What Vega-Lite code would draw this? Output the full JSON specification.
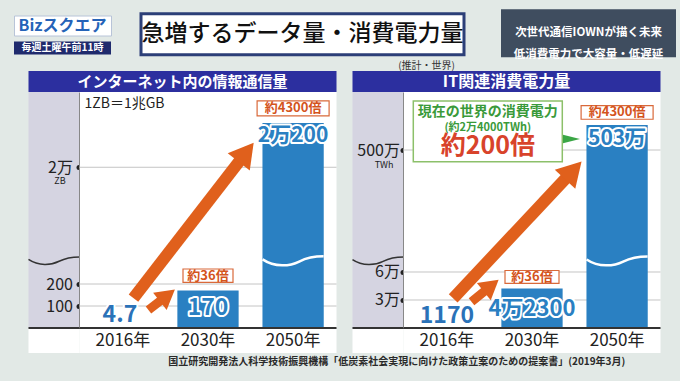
{
"$schema": "https://vega.github.io/schema/vega-lite/v6.json",
"background": "#e2e9e6",
"padding": {"left": 13, "top": 9, "right": 10, "bottom": 14},
"config": {"font": "Noto Sans CJK JP", "view": {"stroke": null}},
"title": {"text": "国立研究開発法人科学技術振興機構「低炭素社会実現に向けた政策立案のための提案書」(2019年3月)", "orient": "bottom", "anchor": "middle", "dx": 52, "offset": 4, "fontSize": 10, "fontWeight": "bold", "color": "#2a2a2a"},
"spacing": 0,
"center": true,
"vconcat": [
{"hconcat": [
  {"vconcat": [
    {"width": 97, "height": 20, "view": {"fill": "white", "stroke": "#b8c4d8"}, "data": {"values": [{}]}, "mark": {"type": "text", "text": "Bizスクエア", "fontSize": 16, "fontWeight": "bold", "color": "#2563b8"}},
    {"width": 97, "height": 13, "view": {"fill": "#1f2a6d"}, "data": {"values": [{}]}, "mark": {"type": "text", "text": "毎週土曜午前11時", "fontSize": 10, "fontWeight": "bold", "color": "white"}}
  ], "spacing": 5},
  {"width": 27, "height": 1, "data": {"values": [{}]}, "mark": {"type": "text", "text": ""}},
  {"width": 323, "height": 41, "view": {"fill": "white", "stroke": "#2c3f78", "strokeWidth": 3}, "data": {"values": [{}]}, "mark": {"type": "text", "text": "急増するデータ量・消費電力量", "fontSize": 23, "fontWeight": 500, "color": "#111111"}},
  {"width": 35, "height": 1, "data": {"values": [{}]}, "mark": {"type": "text", "text": ""}},
  {"width": 175, "height": 48, "view": {"fill": "#3f4d5f"}, "data": {"values": [{}]}, "mark": {"type": "text", "text": ["次世代通信IOWNが描く未来", "低消費電力で大容量・低遅延"], "fontSize": 11.5, "fontWeight": "bold", "color": "white", "lineHeight": 22}}
 ], "spacing": 0, "center": true},
{"title": {"text": "(推計・世界)", "anchor": "middle", "dx": 83, "fontSize": 10, "fontWeight": "normal", "color": "#333333", "offset": 0},
 "hconcat": [
  {"vconcat": [
    {"width": 308, "height": 21, "view": {"fill": "#2c2f9f"}, "data": {"values": [{}]}, "mark": {"type": "text", "text": "インターネット内の情報通信量", "fontSize": 15, "fontWeight": "bold", "color": "white"}},
    {"hconcat": [
      {"width": 51, "height": 236, "view": {"fill": "#d5d4e1"}, "layer": [
        {"data": {"values": [{"v": 20000, "u": "ZB"}]}, "mark": {"type": "text", "fontSize": 9, "dx": 6, "dy": 14, "color": "#222222"},
         "encoding": {"y": {"field": "v", "type": "quantitative", "scale": {"domain": [0, 300, 19590, 20340], "range": [236, 170, 166, 0], "nice": false, "zero": false},
           "axis": {"orient": "left", "offset": -51, "values": [100, 200, 20000], "labelExpr": "datum.value == 20000 ? '2万' : datum.label", "labelFontSize": 16, "labelColor": "#222222", "labelPadding": 6, "tickSize": 1, "tickWidth": 5, "tickCap": "round", "tickColor": "#222222", "domainColor": "#111111", "domainWidth": 2, "grid": false, "title": null, "labelFlush": false, "labelOverlap": false}},
          "text": {"field": "u", "type": "nominal"}}},
        {"data": {"values": [{"v": 10000}]}, "mark": {"type": "point", "shape": "M-1,-0.02C-0.6,0.25,-0.1,0.2,0.2,0.05C0.5,-0.1,0.7,-0.12,1,-0.12", "size": 2601, "filled": false, "stroke": "#333333", "strokeWidth": 1.5, "opacity": 1},
         "encoding": {"y": {"field": "v", "type": "quantitative", "scale": {"domain": [0, 300, 19590, 20340], "range": [236, 170, 166, 0], "nice": false, "zero": false},
           "axis": {"orient": "left", "offset": -51, "values": [100, 200, 20000], "labelExpr": "datum.value == 20000 ? '2万' : datum.label", "labelFontSize": 16, "labelColor": "#222222", "labelPadding": 6, "tickSize": 1, "tickWidth": 5, "tickCap": "round", "tickColor": "#222222", "domainColor": "#111111", "domainWidth": 2, "grid": false, "title": null, "labelFlush": false, "labelOverlap": false}}}},
        {"data": {"values": [{"v": 0}]}, "mark": {"type": "rule", "color": "#333333", "strokeWidth": 2},
         "encoding": {"y": {"field": "v", "type": "quantitative", "scale": {"domain": [0, 300, 19590, 20340], "range": [236, 170, 166, 0], "nice": false, "zero": false},
           "axis": {"orient": "left", "offset": -51, "values": [100, 200, 20000], "labelExpr": "datum.value == 20000 ? '2万' : datum.label", "labelFontSize": 16, "labelColor": "#222222", "labelPadding": 6, "tickSize": 1, "tickWidth": 5, "tickCap": "round", "tickColor": "#222222", "domainColor": "#111111", "domainWidth": 2, "grid": false, "title": null, "labelFlush": false, "labelOverlap": false}}}}
      ]},
      {"width": 257, "height": 236, "view": {"fill": "white"}, "resolve": {"scale": {"x": "independent"}}, "layer": [
        {"data": {"values": [{"v": 100}, {"v": 200}, {"v": 20000}]}, "mark": {"type": "rule", "color": "#c4c4c4", "strokeWidth": 1},
         "encoding": {"y": {"field": "v", "type": "quantitative", "scale": {"domain": [0, 300, 19590, 20340], "range": [236, 170, 166, 0], "nice": false, "zero": false}, "axis": null}}},
        {"data": {"values": [{"year": "2016年", "v": 4.7}, {"year": "2030年", "v": 170}, {"year": "2050年", "v": 20200}]},
         "mark": {"type": "bar", "color": "#2a80c2"},
         "encoding": {"x": {"field": "year", "type": "nominal", "scale": {"type": "band", "domain": ["2016年", "2030年", "2050年"], "paddingInner": 0.28, "paddingOuter": 0.15}, "axis": null},
          "y": {"field": "v", "type": "quantitative", "scale": {"domain": [0, 300, 19590, 20340], "range": [236, 170, 166, 0], "nice": false, "zero": false}, "axis": null}}},
        {"data": {"values": [{"year": "2050年", "v": 10000}]},
         "mark": {"type": "point", "shape": "M-1,-0.02C-0.6,0.25,-0.1,0.2,0.2,0.05C0.5,-0.1,0.7,-0.12,1,-0.12", "size": 3721, "filled": false, "stroke": "white", "strokeWidth": 2.5, "opacity": 1},
         "encoding": {"x": {"field": "year", "type": "nominal", "scale": {"type": "band", "domain": ["2016年", "2030年", "2050年"], "paddingInner": 0.28, "paddingOuter": 0.15}, "axis": null},
          "y": {"field": "v", "type": "quantitative", "scale": {"domain": [0, 300, 19590, 20340], "range": [236, 170, 166, 0], "nice": false, "zero": false}, "axis": null}}},
        {"data": {"values": [{"v": 0}]}, "mark": {"type": "rule", "color": "#333333", "strokeWidth": 2},
         "encoding": {"y": {"field": "v", "type": "quantitative", "scale": {"domain": [0, 300, 19590, 20340], "range": [236, 170, 166, 0], "nice": false, "zero": false}, "axis": null}}},
        {"data": {"values": [{"px": 0.63, "v": 136, "px2": 1.946, "v2": 20067}]},
         "layer": [
          {"mark": {"type": "rule", "color": "#e0601c", "strokeWidth": 12},
           "encoding": {"x": {"field": "px", "type": "quantitative", "scale": {"domain": [0, 3], "nice": false, "zero": false}, "axis": null}, "x2": {"field": "px2"},
            "y": {"field": "v", "type": "quantitative", "scale": {"domain": [0, 300, 19590, 20340], "range": [236, 170, 166, 0], "nice": false, "zero": false}, "axis": null}, "y2": {"field": "v2"}}},
          {"mark": {"type": "point", "shape": "triangle-up", "size": 784, "filled": true, "color": "#e0601c", "opacity": 1, "angle": 38},
           "encoding": {"x": {"field": "px2", "type": "quantitative", "scale": {"domain": [0, 3], "nice": false, "zero": false}, "axis": null},
            "y": {"field": "v2", "type": "quantitative", "scale": {"domain": [0, 300, 19590, 20340], "range": [236, 170, 166, 0], "nice": false, "zero": false}, "axis": null}}}
         ]},
        {"data": {"values": [{"px": 0.805, "v": 82, "px2": 1.026, "v2": 148}]},
         "layer": [
          {"mark": {"type": "rule", "color": "#e0601c", "strokeWidth": 9},
           "encoding": {"x": {"field": "px", "type": "quantitative", "scale": {"domain": [0, 3], "nice": false, "zero": false}, "axis": null}, "x2": {"field": "px2"},
            "y": {"field": "v", "type": "quantitative", "scale": {"domain": [0, 300, 19590, 20340], "range": [236, 170, 166, 0], "nice": false, "zero": false}, "axis": null}, "y2": {"field": "v2"}}},
          {"mark": {"type": "point", "shape": "triangle-up", "size": 484, "filled": true, "color": "#e0601c", "opacity": 1, "angle": 52},
           "encoding": {"x": {"field": "px2", "type": "quantitative", "scale": {"domain": [0, 3], "nice": false, "zero": false}, "axis": null},
            "y": {"field": "v2", "type": "quantitative", "scale": {"domain": [0, 300, 19590, 20340], "range": [236, 170, 166, 0], "nice": false, "zero": false}, "axis": null}}}
         ]},
        {"data": {"values": [{"year": "2050年", "v": 20266, "t": "約4300倍"}]},
         "encoding": {"x": {"field": "year", "type": "nominal", "scale": {"type": "band", "domain": ["2016年", "2030年", "2050年"], "paddingInner": 0.28, "paddingOuter": 0.15}, "axis": null},
          "y": {"field": "v", "type": "quantitative", "scale": {"domain": [0, 300, 19590, 20340], "range": [236, 170, 166, 0], "nice": false, "zero": false}, "axis": null}},
         "layer": [
          {"mark": {"type": "point", "shape": "M-1,-0.21H1V0.21H-1Z", "size": 5184, "filled": true, "fill": "white", "stroke": "#d9693a", "strokeWidth": 1.2, "opacity": 1}},
          {"mark": {"type": "text", "fontSize": 13, "fontWeight": "bold", "color": "#d4541c"}, "encoding": {"text": {"field": "t", "type": "nominal"}}}
         ]},
        {"data": {"values": [{"year": "2030年", "v": 238, "t": "約36倍"}]},
         "encoding": {"x": {"field": "year", "type": "nominal", "scale": {"type": "band", "domain": ["2016年", "2030年", "2050年"], "paddingInner": 0.28, "paddingOuter": 0.15}, "axis": null},
          "y": {"field": "v", "type": "quantitative", "scale": {"domain": [0, 300, 19590, 20340], "range": [236, 170, 166, 0], "nice": false, "zero": false}, "axis": null}},
         "layer": [
          {"mark": {"type": "point", "shape": "M-1,-0.266H1V0.266H-1Z", "size": 2500, "filled": true, "fill": "white", "stroke": "#d9693a", "strokeWidth": 1.2, "opacity": 1}},
          {"mark": {"type": "text", "fontSize": 13, "fontWeight": "bold", "color": "#d4541c"}, "encoding": {"text": {"field": "t", "type": "nominal"}}}
         ]},
        {"data": {"values": [{"year": "2050年", "v": 20200, "t": "2万200"}]},
         "encoding": {"x": {"field": "year", "type": "nominal", "scale": {"type": "band", "domain": ["2016年", "2030年", "2050年"], "paddingInner": 0.28, "paddingOuter": 0.15}, "axis": null},
          "y": {"field": "v", "type": "quantitative", "scale": {"domain": [0, 300, 19590, 20340], "range": [236, 170, 166, 0], "nice": false, "zero": false}, "axis": null},
          "text": {"field": "t", "type": "nominal"}},
         "layer": [
          {"mark": {"type": "text", "fontSize": 21, "fontWeight": "bold", "dy": 13, "fill": "white", "stroke": "white", "strokeWidth": 4, "strokeJoin": "round"}},
          {"mark": {"type": "text", "fontSize": 21, "fontWeight": "bold", "dy": 13, "fill": "#2a80c2"}}
         ]},
        {"data": {"values": [{"year": "2030年", "v": 170, "t": "170"}]},
         "encoding": {"x": {"field": "year", "type": "nominal", "scale": {"type": "band", "domain": ["2016年", "2030年", "2050年"], "paddingInner": 0.28, "paddingOuter": 0.15}, "axis": null},
          "y": {"field": "v", "type": "quantitative", "scale": {"domain": [0, 300, 19590, 20340], "range": [236, 170, 166, 0], "nice": false, "zero": false}, "axis": null},
          "text": {"field": "t", "type": "nominal"}},
         "layer": [
          {"mark": {"type": "text", "fontSize": 23, "fontWeight": "bold", "dy": 17, "fill": "white", "stroke": "white", "strokeWidth": 4, "strokeJoin": "round"}},
          {"mark": {"type": "text", "fontSize": 23, "fontWeight": "bold", "dy": 17, "fill": "#2a80c2"}}
         ]},
        {"data": {"values": [{"year": "2016年", "v": 4.7, "t": "4.7"}]},
         "encoding": {"x": {"field": "year", "type": "nominal", "scale": {"type": "band", "domain": ["2016年", "2030年", "2050年"], "paddingInner": 0.28, "paddingOuter": 0.15}, "axis": null},
          "y": {"field": "v", "type": "quantitative", "scale": {"domain": [0, 300, 19590, 20340], "range": [236, 170, 166, 0], "nice": false, "zero": false}, "axis": null},
          "text": {"field": "t", "type": "nominal"}},
         "layer": [
          {"mark": {"type": "text", "fontSize": 23, "fontWeight": "bold", "dy": -12, "dx": -3, "fill": "white", "stroke": "white", "strokeWidth": 4, "strokeJoin": "round"}},
          {"mark": {"type": "text", "fontSize": 23, "fontWeight": "bold", "dy": -12, "dx": -3, "fill": "#2a72b8"}}
         ]},
        {"data": {"values": [{"px": 0.058, "v": 20285, "t": "1ZB＝1兆GB"}]},
         "mark": {"type": "text", "align": "left", "fontSize": 14, "color": "#222222"},
         "encoding": {"x": {"field": "px", "type": "quantitative", "scale": {"domain": [0, 3], "nice": false, "zero": false}, "axis": null},
          "y": {"field": "v", "type": "quantitative", "scale": {"domain": [0, 300, 19590, 20340], "range": [236, 170, 166, 0], "nice": false, "zero": false}, "axis": null},
          "text": {"field": "t", "type": "nominal"}}}
      ]}
    ], "spacing": 0, "bounds": "flush"},
    {"hconcat": [
      {"width": 51, "height": 24, "view": {"fill": "white"}, "data": {"values": [{}]}, "mark": {"type": "text", "text": ""}},
      {"width": 257, "height": 24, "view": {"fill": "white"}, "data": {"values": [{"year": "2016年"}, {"year": "2030年"}, {"year": "2050年"}]},
       "mark": {"type": "text", "fontSize": 17, "color": "#222222"},
       "encoding": {"x": {"field": "year", "type": "nominal", "scale": {"type": "band", "domain": ["2016年", "2030年", "2050年"], "paddingInner": 0.28, "paddingOuter": 0.15}, "axis": null}, "text": {"field": "year", "type": "nominal"}}}
    ], "spacing": 0, "bounds": "flush"}
  ], "spacing": 0},
  {"vconcat": [
    {"width": 308, "height": 21, "view": {"fill": "#2c2f9f"}, "data": {"values": [{}]}, "mark": {"type": "text", "text": "IT関連消費電力量", "fontSize": 16, "fontWeight": "bold", "color": "white"}},
    {"hconcat": [
      {"width": 51, "height": 236, "view": {"fill": "#d5d4e1"}, "layer": [
        {"data": {"values": [{"v": 5000000, "u": "TWh"}]}, "mark": {"type": "text", "fontSize": 9, "dx": 6, "dy": 15, "color": "#222222"},
         "encoding": {"y": {"field": "v", "type": "quantitative", "scale": {"domain": [0, 70700, 4870400, 5069600], "range": [236, 170, 166, 0], "nice": false, "zero": false},
           "axis": {"orient": "left", "offset": -51, "values": [30000, 60000, 5000000], "labelExpr": "datum.value == 30000 ? '3万' : datum.value == 60000 ? '6万' : '500万'", "labelFontSize": 16, "labelColor": "#222222", "labelPadding": 3, "tickSize": 1, "tickWidth": 5, "tickCap": "round", "tickColor": "#222222", "domainColor": "#111111", "domainWidth": 2, "grid": false, "title": null, "labelFlush": false, "labelOverlap": false}},
          "text": {"field": "u", "type": "nominal"}}},
        {"data": {"values": [{"v": 2400000}]}, "mark": {"type": "point", "shape": "M-1,-0.02C-0.6,0.25,-0.1,0.2,0.2,0.05C0.5,-0.1,0.7,-0.12,1,-0.12", "size": 2601, "filled": false, "stroke": "#333333", "strokeWidth": 1.5, "opacity": 1},
         "encoding": {"y": {"field": "v", "type": "quantitative", "scale": {"domain": [0, 70700, 4870400, 5069600], "range": [236, 170, 166, 0], "nice": false, "zero": false},
           "axis": {"orient": "left", "offset": -51, "values": [30000, 60000, 5000000], "labelExpr": "datum.value == 30000 ? '3万' : datum.value == 60000 ? '6万' : '500万'", "labelFontSize": 16, "labelColor": "#222222", "labelPadding": 3, "tickSize": 1, "tickWidth": 5, "tickCap": "round", "tickColor": "#222222", "domainColor": "#111111", "domainWidth": 2, "grid": false, "title": null, "labelFlush": false, "labelOverlap": false}}}},
        {"data": {"values": [{"v": 0}]}, "mark": {"type": "rule", "color": "#333333", "strokeWidth": 2},
         "encoding": {"y": {"field": "v", "type": "quantitative", "scale": {"domain": [0, 70700, 4870400, 5069600], "range": [236, 170, 166, 0], "nice": false, "zero": false},
           "axis": {"orient": "left", "offset": -51, "values": [30000, 60000, 5000000], "labelExpr": "datum.value == 30000 ? '3万' : datum.value == 60000 ? '6万' : '500万'", "labelFontSize": 16, "labelColor": "#222222", "labelPadding": 3, "tickSize": 1, "tickWidth": 5, "tickCap": "round", "tickColor": "#222222", "domainColor": "#111111", "domainWidth": 2, "grid": false, "title": null, "labelFlush": false, "labelOverlap": false}}}}
      ]},
      {"width": 257, "height": 236, "view": {"fill": "white"}, "resolve": {"scale": {"x": "independent"}}, "layer": [
        {"data": {"values": [{"v": 30000}, {"v": 60000}, {"v": 5000000}]}, "mark": {"type": "rule", "color": "#c4c4c4", "strokeWidth": 1},
         "encoding": {"y": {"field": "v", "type": "quantitative", "scale": {"domain": [0, 70700, 4870400, 5069600], "range": [236, 170, 166, 0], "nice": false, "zero": false}, "axis": null}}},
        {"data": {"values": [{"year": "2016年", "v": 1170}, {"year": "2030年", "v": 42300}, {"year": "2050年", "v": 5030000}]},
         "mark": {"type": "bar", "color": "#2a80c2"},
         "encoding": {"x": {"field": "year", "type": "nominal", "scale": {"type": "band", "domain": ["2016年", "2030年", "2050年"], "paddingInner": 0.28, "paddingOuter": 0.15}, "axis": null},
          "y": {"field": "v", "type": "quantitative", "scale": {"domain": [0, 70700, 4870400, 5069600], "range": [236, 170, 166, 0], "nice": false, "zero": false}, "axis": null}}},
        {"data": {"values": [{"year": "2050年", "v": 2400000}]},
         "mark": {"type": "point", "shape": "M-1,-0.02C-0.6,0.25,-0.1,0.2,0.2,0.05C0.5,-0.1,0.7,-0.12,1,-0.12", "size": 3721, "filled": false, "stroke": "white", "strokeWidth": 2.5, "opacity": 1},
         "encoding": {"x": {"field": "year", "type": "nominal", "scale": {"type": "band", "domain": ["2016年", "2030年", "2050年"], "paddingInner": 0.28, "paddingOuter": 0.15}, "axis": null},
          "y": {"field": "v", "type": "quantitative", "scale": {"domain": [0, 70700, 4870400, 5069600], "range": [236, 170, 166, 0], "nice": false, "zero": false}, "axis": null}}},
        {"data": {"values": [{"v": 0}]}, "mark": {"type": "rule", "color": "#333333", "strokeWidth": 2},
         "encoding": {"y": {"field": "v", "type": "quantitative", "scale": {"domain": [0, 70700, 4870400, 5069600], "range": [236, 170, 166, 0], "nice": false, "zero": false}, "axis": null}}},
        {"data": {"values": [{"px": 0.58, "v": 31830, "px2": 1.982, "v2": 4975560}]},
         "layer": [
          {"mark": {"type": "rule", "color": "#e0601c", "strokeWidth": 12},
           "encoding": {"x": {"field": "px", "type": "quantitative", "scale": {"domain": [0, 3], "nice": false, "zero": false}, "axis": null}, "x2": {"field": "px2"},
            "y": {"field": "v", "type": "quantitative", "scale": {"domain": [0, 70700, 4870400, 5069600], "range": [236, 170, 166, 0], "nice": false, "zero": false}, "axis": null}, "y2": {"field": "v2"}}},
          {"mark": {"type": "point", "shape": "triangle-up", "size": 784, "filled": true, "color": "#e0601c", "opacity": 1, "angle": 43},
           "encoding": {"x": {"field": "px2", "type": "quantitative", "scale": {"domain": [0, 3], "nice": false, "zero": false}, "axis": null},
            "y": {"field": "v2", "type": "quantitative", "scale": {"domain": [0, 70700, 4870400, 5069600], "range": [236, 170, 166, 0], "nice": false, "zero": false}, "axis": null}}}
         ]},
        {"data": {"values": [{"px": 0.794, "v": 28190, "px2": 1.024, "v2": 45340}]},
         "layer": [
          {"mark": {"type": "rule", "color": "#e0601c", "strokeWidth": 9},
           "encoding": {"x": {"field": "px", "type": "quantitative", "scale": {"domain": [0, 3], "nice": false, "zero": false}, "axis": null}, "x2": {"field": "px2"},
            "y": {"field": "v", "type": "quantitative", "scale": {"domain": [0, 70700, 4870400, 5069600], "range": [236, 170, 166, 0], "nice": false, "zero": false}, "axis": null}, "y2": {"field": "v2"}}},
          {"mark": {"type": "point", "shape": "triangle-up", "size": 484, "filled": true, "color": "#e0601c", "opacity": 1, "angle": 51},
           "encoding": {"x": {"field": "px2", "type": "quantitative", "scale": {"domain": [0, 3], "nice": false, "zero": false}, "axis": null},
            "y": {"field": "v2", "type": "quantitative", "scale": {"domain": [0, 70700, 4870400, 5069600], "range": [236, 170, 166, 0], "nice": false, "zero": false}, "axis": null}}}
         ]},
        {"data": {"values": [{"px": 0.984, "v": 5022380, "t1": "現在の世界の消費電力", "t2": "(約2万4000TWh)", "t3": "約200倍"}]},
         "encoding": {"x": {"field": "px", "type": "quantitative", "scale": {"domain": [0, 3], "nice": false, "zero": false}, "axis": null},
          "y": {"field": "v", "type": "quantitative", "scale": {"domain": [0, 70700, 4870400, 5069600], "range": [236, 170, 166, 0], "nice": false, "zero": false}, "axis": null}},
         "layer": [
          {"mark": {"type": "point", "shape": "M-1,-0.407H1V0.407H-1Z", "size": 22201, "filled": true, "fill": "white", "stroke": "#8cc06a", "strokeWidth": 1.5, "opacity": 1}},
          {"mark": {"type": "text", "fontSize": 14, "fontWeight": "bold", "color": "#3a9a3a", "dy": -19}, "encoding": {"text": {"field": "t1", "type": "nominal"}}},
          {"mark": {"type": "text", "fontSize": 11, "fontWeight": "bold", "color": "#3a9a3a", "dy": -3}, "encoding": {"text": {"field": "t2", "type": "nominal"}}},
          {"mark": {"type": "text", "fontSize": 25, "fontWeight": "bold", "color": "#d8432b", "dy": 15}, "encoding": {"text": {"field": "t3", "type": "nominal"}}}
         ]},
        {"data": {"values": [{"px": 1.961, "v": 5013260}]},
         "mark": {"type": "point", "shape": "M-1,-0.5L1,0L-1,0.5Z", "size": 289, "filled": true, "color": "#3aa645", "opacity": 1},
         "encoding": {"x": {"field": "px", "type": "quantitative", "scale": {"domain": [0, 3], "nice": false, "zero": false}, "axis": null},
          "y": {"field": "v", "type": "quantitative", "scale": {"domain": [0, 70700, 4870400, 5069600], "range": [236, 170, 166, 0], "nice": false, "zero": false}, "axis": null}}},
        {"data": {"values": [{"year": "2050年", "v": 5045100, "t": "約4300倍"}]},
         "encoding": {"x": {"field": "year", "type": "nominal", "scale": {"type": "band", "domain": ["2016年", "2030年", "2050年"], "paddingInner": 0.28, "paddingOuter": 0.15}, "axis": null},
          "y": {"field": "v", "type": "quantitative", "scale": {"domain": [0, 70700, 4870400, 5069600], "range": [236, 170, 166, 0], "nice": false, "zero": false}, "axis": null}},
         "layer": [
          {"mark": {"type": "point", "shape": "M-1,-0.19H1V0.19H-1Z", "size": 5184, "filled": true, "fill": "white", "stroke": "#d9693a", "strokeWidth": 1.2, "opacity": 1}},
          {"mark": {"type": "text", "fontSize": 13, "fontWeight": "bold", "color": "#d4541c"}, "encoding": {"text": {"field": "t", "type": "nominal"}}}
         ]},
        {"data": {"values": [{"year": "2030年", "v": 54660, "t": "約36倍"}]},
         "encoding": {"x": {"field": "year", "type": "nominal", "scale": {"type": "band", "domain": ["2016年", "2030年", "2050年"], "paddingInner": 0.28, "paddingOuter": 0.15}, "axis": null},
          "y": {"field": "v", "type": "quantitative", "scale": {"domain": [0, 70700, 4870400, 5069600], "range": [236, 170, 166, 0], "nice": false, "zero": false}, "axis": null}},
         "layer": [
          {"mark": {"type": "point", "shape": "M-1,-0.24H1V0.24H-1Z", "size": 2916, "filled": true, "fill": "white", "stroke": "#d9693a", "strokeWidth": 1.2, "opacity": 1}},
          {"mark": {"type": "text", "fontSize": 13, "fontWeight": "bold", "color": "#d4541c"}, "encoding": {"text": {"field": "t", "type": "nominal"}}}
         ]},
        {"data": {"values": [{"year": "2050年", "v": 5030000, "t": "503万"}]},
         "encoding": {"x": {"field": "year", "type": "nominal", "scale": {"type": "band", "domain": ["2016年", "2030年", "2050年"], "paddingInner": 0.28, "paddingOuter": 0.15}, "axis": null},
          "y": {"field": "v", "type": "quantitative", "scale": {"domain": [0, 70700, 4870400, 5069600], "range": [236, 170, 166, 0], "nice": false, "zero": false}, "axis": null},
          "text": {"field": "t", "type": "nominal"}},
         "layer": [
          {"mark": {"type": "text", "fontSize": 21, "fontWeight": "bold", "dy": 14, "fill": "white", "stroke": "white", "strokeWidth": 4, "strokeJoin": "round"}},
          {"mark": {"type": "text", "fontSize": 21, "fontWeight": "bold", "dy": 14, "fill": "#2a80c2"}}
         ]},
        {"data": {"values": [{"year": "2030年", "v": 42300, "t": "4万2300"}]},
         "encoding": {"x": {"field": "year", "type": "nominal", "scale": {"type": "band", "domain": ["2016年", "2030年", "2050年"], "paddingInner": 0.28, "paddingOuter": 0.15}, "axis": null},
          "y": {"field": "v", "type": "quantitative", "scale": {"domain": [0, 70700, 4870400, 5069600], "range": [236, 170, 166, 0], "nice": false, "zero": false}, "axis": null},
          "text": {"field": "t", "type": "nominal"}},
         "layer": [
          {"mark": {"type": "text", "fontSize": 22, "fontWeight": "bold", "dy": 20, "fill": "white", "stroke": "white", "strokeWidth": 4, "strokeJoin": "round"}},
          {"mark": {"type": "text", "fontSize": 22, "fontWeight": "bold", "dy": 20, "fill": "#2a80c2"}}
         ]},
        {"data": {"values": [{"year": "2016年", "v": 1170, "t": "1170"}]},
         "encoding": {"x": {"field": "year", "type": "nominal", "scale": {"type": "band", "domain": ["2016年", "2030年", "2050年"], "paddingInner": 0.28, "paddingOuter": 0.15}, "axis": null},
          "y": {"field": "v", "type": "quantitative", "scale": {"domain": [0, 70700, 4870400, 5069600], "range": [236, 170, 166, 0], "nice": false, "zero": false}, "axis": null},
          "text": {"field": "t", "type": "nominal"}},
         "layer": [
          {"mark": {"type": "text", "fontSize": 23, "fontWeight": "bold", "dy": -11, "fill": "white", "stroke": "white", "strokeWidth": 4, "strokeJoin": "round"}},
          {"mark": {"type": "text", "fontSize": 23, "fontWeight": "bold", "dy": -11, "fill": "#2a72b8"}}
         ]}
      ]}
    ], "spacing": 0, "bounds": "flush"},
    {"hconcat": [
      {"width": 51, "height": 24, "view": {"fill": "white"}, "data": {"values": [{}]}, "mark": {"type": "text", "text": ""}},
      {"width": 257, "height": 24, "view": {"fill": "white"}, "data": {"values": [{"year": "2016年"}, {"year": "2030年"}, {"year": "2050年"}]},
       "mark": {"type": "text", "fontSize": 17, "color": "#222222"},
       "encoding": {"x": {"field": "year", "type": "nominal", "scale": {"type": "band", "domain": ["2016年", "2030年", "2050年"], "paddingInner": 0.28, "paddingOuter": 0.15}, "axis": null}, "text": {"field": "year", "type": "nominal"}}}
    ], "spacing": 0, "bounds": "flush"}
  ], "spacing": 0}
 ], "spacing": 12}
]
}
